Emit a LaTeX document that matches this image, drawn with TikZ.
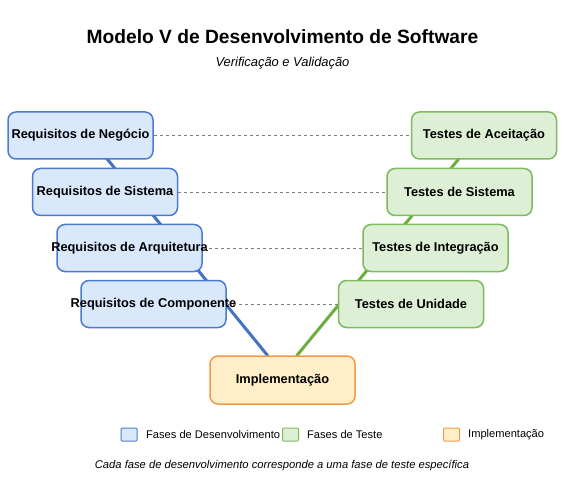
\documentclass[tikz,border=0pt]{standalone}
\usepackage{fontspec}
\setmainfont{Liberation Sans}
\usetikzlibrary{backgrounds}
\definecolor{devfill}{HTML}{DAE8FC}
\definecolor{devdraw}{HTML}{4A7BD0}
\definecolor{devline}{HTML}{4472C4}
\definecolor{tstfill}{HTML}{DDEFD5}
\definecolor{tstdraw}{HTML}{7DBB5E}
\definecolor{tstline}{HTML}{6AAF3D}
\definecolor{impfill}{HTML}{FFEFC8}
\definecolor{impdraw}{HTML}{F29A4A}
\definecolor{dashgray}{HTML}{808080}
\newcommand{\fixw}[1]{\makebox[0pt][c]{#1}}
\tikzset{
  phase/.style={rounded corners=8pt, line width=1.5pt, minimum width=145pt, minimum height=47pt, inner sep=0pt,
    font=\fontsize{12.8}{15}\selectfont\bfseries, text=black},
  devbox/.style={phase, fill=devfill, draw=devdraw},
  tstbox/.style={phase, fill=tstfill, draw=tstdraw},
  impbox/.style={phase, fill=impfill, draw=impdraw, minimum height=48pt},
  vline/.style={line width=3pt},
  pairline/.style={draw=dashgray, line width=0.8pt, dash pattern=on 3pt off 3pt},
  legsq/.style={minimum width=16pt, minimum height=13pt, inner sep=0pt, line width=1pt, rounded corners=1pt},
  legtxt/.style={anchor=west, inner sep=0pt, font=\fontsize{11.1}{13}\selectfont},
}
\begin{document}
\begin{tikzpicture}[x=1pt,y=-1pt]
\useasboundingbox (0,0) rectangle (565,489);
\node[font=\fontsize{19.2}{22}\selectfont\bfseries] (title) at (282.5,37) {Modelo V de Desenvolvimento de Software};
\node[font=\fontsize{12.9}{15}\selectfont\itshape] (sub) at (282.5,63) {Verificação e Validação};

\node[devbox] (l1) at (80.5,135.5) {\fixw{Requisitos de Negócio}};
\node[devbox] (l2) at (105,192) {\fixw{Requisitos de Sistema}};
\node[devbox] (l3) at (129.5,248) {\fixw{Requisitos de Arquitetura}};
\node[devbox] (l4) at (153.5,304) {\fixw{Requisitos de Componente}};

\node[tstbox] (r1) at (484,135.5) {\fixw{Testes de Aceitação}};
\node[tstbox] (r2) at (459.5,192) {\fixw{Testes de Sistema}};
\node[tstbox] (r3) at (435.5,248) {\fixw{Testes de Integração}};
\node[tstbox] (r4) at (411,304) {\fixw{Testes de Unidade}};

\node[impbox] (imp) at (282.5,380) {\fixw{Implementação}};
\coordinate (vL) at (88,135.5);
\coordinate (vR) at (478,135.5);
\coordinate (impL) at (268,356);
\coordinate (impR) at (296.5,356);

\begin{scope}[on background layer]
\fill[white] (0,0) rectangle (565,489);
\draw[vline, draw=devline] (vL) -- (impL);
\draw[vline, draw=tstline] (vR) -- (impR);
\end{scope}

\draw[pairline] (l1.east) -- (r1.west);
\draw[pairline] (l2.east) -- (r2.west);
\draw[pairline] (l3.east) -- (r3.west);
\draw[pairline] (l4.east) -- (r4.west);

\node[legsq, fill=devfill, draw=devdraw] (lg1) at (129,434.5) {};
\node[legtxt] (lt1) at (146,434.5) {Fases de Desenvolvimento};
\node[legsq, fill=tstfill, draw=tstdraw] (lg2) at (290.5,434.5) {};
\node[legtxt] (lt2) at (307,434.5) {Fases de Teste};
\node[legsq, fill=impfill, draw=impdraw] (lg3) at (451.5,434.5) {};
\node[legtxt] (lt3) at (468,434.5) {Implementação};

\node[font=\fontsize{11.2}{13}\selectfont\itshape] (foot) at (282,466) {Cada fase de desenvolvimento corresponde a uma fase de teste específica};
\end{tikzpicture}
\end{document}
